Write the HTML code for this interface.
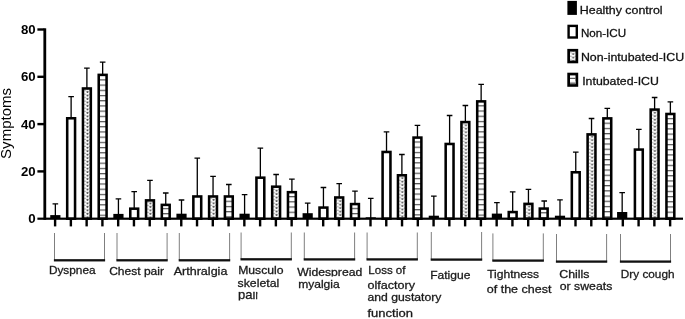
<!DOCTYPE html>
<html><head><meta charset="utf-8"><title>Symptoms</title>
<style>
html,body{margin:0;padding:0;background:#fff;}
body{width:685px;height:319px;overflow:hidden;}
svg{display:block;filter:blur(0.35px);}
text{font-family:"Liberation Sans",Arial,sans-serif;fill:#000;}
.ax{font-weight:bold;font-size:12.7px;}
.lb{font-size:10.7px;fill:#1a1a1a;stroke:#1a1a1a;stroke-width:0.28px;}
.lg{font-size:11.1px;fill:#111;stroke:#111;stroke-width:0.28px;}
</style></head><body>
<svg width="685" height="319" viewBox="0 0 685 319">
<defs>
<pattern id="pd0" patternUnits="userSpaceOnUse" x="84.99" y="-0.09" width="5" height="3.48"><rect width="5" height="3.48" fill="#fff"/><path d="M0 0 L2.5 1.74 L5 0 M0 3.48 L0.1 3.48" stroke="#9c9c9c" stroke-width="0.75" fill="none"/><circle cx="2.5" cy="1.64" r="0.95" fill="#505050"/><circle cx="0" cy="0" r="0.6" fill="#a8a8a8"/><circle cx="5" cy="0" r="0.6" fill="#a8a8a8"/><circle cx="0" cy="3.48" r="0.6" fill="#a8a8a8"/><circle cx="5" cy="3.48" r="0.6" fill="#a8a8a8"/></pattern>
<pattern id="pd1" patternUnits="userSpaceOnUse" x="147.87" y="-0.04" width="5" height="3.48"><rect width="5" height="3.48" fill="#fff"/><path d="M0 0 L2.5 1.74 L5 0 M0 3.48 L0.1 3.48" stroke="#9c9c9c" stroke-width="0.75" fill="none"/><circle cx="2.5" cy="1.64" r="0.95" fill="#505050"/><circle cx="0" cy="0" r="0.6" fill="#a8a8a8"/><circle cx="5" cy="0" r="0.6" fill="#a8a8a8"/><circle cx="0" cy="3.48" r="0.6" fill="#a8a8a8"/><circle cx="5" cy="3.48" r="0.6" fill="#a8a8a8"/></pattern>
<pattern id="pd2" patternUnits="userSpaceOnUse" x="211.15" y="-0.14" width="5" height="3.48"><rect width="5" height="3.48" fill="#fff"/><path d="M0 0 L2.5 1.74 L5 0 M0 3.48 L0.1 3.48" stroke="#9c9c9c" stroke-width="0.75" fill="none"/><circle cx="2.5" cy="1.64" r="0.95" fill="#505050"/><circle cx="0" cy="0" r="0.6" fill="#a8a8a8"/><circle cx="5" cy="0" r="0.6" fill="#a8a8a8"/><circle cx="0" cy="3.48" r="0.6" fill="#a8a8a8"/><circle cx="5" cy="3.48" r="0.6" fill="#a8a8a8"/></pattern>
<pattern id="pd3" patternUnits="userSpaceOnUse" x="274.13" y="1.06" width="5" height="3.48"><rect width="5" height="3.48" fill="#fff"/><path d="M0 0 L2.5 1.74 L5 0 M0 3.48 L0.1 3.48" stroke="#9c9c9c" stroke-width="0.75" fill="none"/><circle cx="2.5" cy="1.64" r="0.95" fill="#505050"/><circle cx="0" cy="0" r="0.6" fill="#a8a8a8"/><circle cx="5" cy="0" r="0.6" fill="#a8a8a8"/><circle cx="0" cy="3.48" r="0.6" fill="#a8a8a8"/><circle cx="5" cy="3.48" r="0.6" fill="#a8a8a8"/></pattern>
<pattern id="pd4" patternUnits="userSpaceOnUse" x="337.71" y="1.16" width="5" height="3.48"><rect width="5" height="3.48" fill="#fff"/><path d="M0 0 L2.5 1.74 L5 0 M0 3.48 L0.1 3.48" stroke="#9c9c9c" stroke-width="0.75" fill="none"/><circle cx="2.5" cy="1.64" r="0.95" fill="#505050"/><circle cx="0" cy="0" r="0.6" fill="#a8a8a8"/><circle cx="5" cy="0" r="0.6" fill="#a8a8a8"/><circle cx="0" cy="3.48" r="0.6" fill="#a8a8a8"/><circle cx="5" cy="3.48" r="0.6" fill="#a8a8a8"/></pattern>
<pattern id="pd5" patternUnits="userSpaceOnUse" x="399.79" y="-0.94" width="5" height="3.48"><rect width="5" height="3.48" fill="#fff"/><path d="M0 0 L2.5 1.74 L5 0 M0 3.48 L0.1 3.48" stroke="#9c9c9c" stroke-width="0.75" fill="none"/><circle cx="2.5" cy="1.64" r="0.95" fill="#505050"/><circle cx="0" cy="0" r="0.6" fill="#a8a8a8"/><circle cx="5" cy="0" r="0.6" fill="#a8a8a8"/><circle cx="0" cy="3.48" r="0.6" fill="#a8a8a8"/><circle cx="5" cy="3.48" r="0.6" fill="#a8a8a8"/></pattern>
<pattern id="pd6" patternUnits="userSpaceOnUse" x="463.47" y="-1.59" width="5" height="3.48"><rect width="5" height="3.48" fill="#fff"/><path d="M0 0 L2.5 1.74 L5 0 M0 3.48 L0.1 3.48" stroke="#9c9c9c" stroke-width="0.75" fill="none"/><circle cx="2.5" cy="1.64" r="0.95" fill="#505050"/><circle cx="0" cy="0" r="0.6" fill="#a8a8a8"/><circle cx="5" cy="0" r="0.6" fill="#a8a8a8"/><circle cx="0" cy="3.48" r="0.6" fill="#a8a8a8"/><circle cx="5" cy="3.48" r="0.6" fill="#a8a8a8"/></pattern>
<pattern id="pd7" patternUnits="userSpaceOnUse" x="526.65" y="-0.39" width="5" height="3.48"><rect width="5" height="3.48" fill="#fff"/><path d="M0 0 L2.5 1.74 L5 0 M0 3.48 L0.1 3.48" stroke="#9c9c9c" stroke-width="0.75" fill="none"/><circle cx="2.5" cy="1.64" r="0.95" fill="#505050"/><circle cx="0" cy="0" r="0.6" fill="#a8a8a8"/><circle cx="5" cy="0" r="0.6" fill="#a8a8a8"/><circle cx="0" cy="3.48" r="0.6" fill="#a8a8a8"/><circle cx="5" cy="3.48" r="0.6" fill="#a8a8a8"/></pattern>
<pattern id="pd8" patternUnits="userSpaceOnUse" x="589.63" y="-0.64" width="5" height="3.48"><rect width="5" height="3.48" fill="#fff"/><path d="M0 0 L2.5 1.74 L5 0 M0 3.48 L0.1 3.48" stroke="#9c9c9c" stroke-width="0.75" fill="none"/><circle cx="2.5" cy="1.64" r="0.95" fill="#505050"/><circle cx="0" cy="0" r="0.6" fill="#a8a8a8"/><circle cx="5" cy="0" r="0.6" fill="#a8a8a8"/><circle cx="0" cy="3.48" r="0.6" fill="#a8a8a8"/><circle cx="5" cy="3.48" r="0.6" fill="#a8a8a8"/></pattern>
<pattern id="pd9" patternUnits="userSpaceOnUse" x="652.41" y="-0.24" width="5" height="3.48"><rect width="5" height="3.48" fill="#fff"/><path d="M0 0 L2.5 1.74 L5 0 M0 3.48 L0.1 3.48" stroke="#9c9c9c" stroke-width="0.75" fill="none"/><circle cx="2.5" cy="1.64" r="0.95" fill="#505050"/><circle cx="0" cy="0" r="0.6" fill="#a8a8a8"/><circle cx="5" cy="0" r="0.6" fill="#a8a8a8"/><circle cx="0" cy="3.48" r="0.6" fill="#a8a8a8"/><circle cx="5" cy="3.48" r="0.6" fill="#a8a8a8"/></pattern>
<pattern id="pdl" patternUnits="userSpaceOnUse" x="570.70" y="0.26" width="5" height="3.48"><rect width="5" height="3.48" fill="#fff"/><path d="M0 0 L2.5 1.74 L5 0 M0 3.48 L0.1 3.48" stroke="#9c9c9c" stroke-width="0.75" fill="none"/><circle cx="2.5" cy="1.64" r="0.95" fill="#505050"/><circle cx="0" cy="0" r="0.6" fill="#a8a8a8"/><circle cx="5" cy="0" r="0.6" fill="#a8a8a8"/><circle cx="0" cy="3.48" r="0.6" fill="#a8a8a8"/><circle cx="5" cy="3.48" r="0.6" fill="#a8a8a8"/></pattern>
<pattern id="ph0" patternUnits="userSpaceOnUse" x="0" y="1.25" width="8" height="5.205"><rect width="8" height="5.205" fill="#fff"/><rect width="8" height="1.2" fill="#555"/></pattern>
<pattern id="ph1" patternUnits="userSpaceOnUse" x="0" y="-0.30" width="8" height="5.205"><rect width="8" height="5.205" fill="#fff"/><rect width="8" height="1.2" fill="#555"/></pattern>
<pattern id="ph2" patternUnits="userSpaceOnUse" x="0" y="2.90" width="8" height="5.205"><rect width="8" height="5.205" fill="#fff"/><rect width="8" height="1.2" fill="#555"/></pattern>
<pattern id="ph3" patternUnits="userSpaceOnUse" x="0" y="3.46" width="8" height="5.205"><rect width="8" height="5.205" fill="#fff"/><rect width="8" height="1.2" fill="#555"/></pattern>
<pattern id="ph4" patternUnits="userSpaceOnUse" x="0" y="-0.40" width="8" height="5.205"><rect width="8" height="5.205" fill="#fff"/><rect width="8" height="1.2" fill="#555"/></pattern>
<pattern id="ph5" patternUnits="userSpaceOnUse" x="0" y="0.90" width="8" height="5.205"><rect width="8" height="5.205" fill="#fff"/><rect width="8" height="1.2" fill="#555"/></pattern>
<pattern id="ph6" patternUnits="userSpaceOnUse" x="0" y="1.15" width="8" height="5.205"><rect width="8" height="5.205" fill="#fff"/><rect width="8" height="1.2" fill="#555"/></pattern>
<pattern id="ph7" patternUnits="userSpaceOnUse" x="0" y="4.00" width="8" height="5.205"><rect width="8" height="5.205" fill="#fff"/><rect width="8" height="1.2" fill="#555"/></pattern>
<pattern id="ph8" patternUnits="userSpaceOnUse" x="0" y="2.90" width="8" height="5.205"><rect width="8" height="5.205" fill="#fff"/><rect width="8" height="1.2" fill="#555"/></pattern>
<pattern id="ph9" patternUnits="userSpaceOnUse" x="0" y="3.40" width="8" height="5.205"><rect width="8" height="5.205" fill="#fff"/><rect width="8" height="1.2" fill="#555"/></pattern>
<linearGradient id="gl" x1="0" y1="0" x2="0" y2="1"><stop offset="0" stop-color="#fff"/><stop offset="1" stop-color="#444"/></linearGradient>
<clipPath id="cpair"><rect x="230" y="291.4" width="27.4" height="9.2"/></clipPath>
<clipPath id="cwide"><rect x="290" y="260" width="80" height="16.5"/></clipPath>
</defs>
<rect width="685" height="319" fill="#fff"/>

<path d="M55.35 203.8 V216.1 M52.55 203.8 H58.15" stroke="#000" stroke-width="1.3" fill="none"/>
<rect x="50.25" y="215.1" width="10.2" height="3.6" fill="#000"/>
<path d="M71.12 96.6 V118.0 M68.32 96.6 H73.92" stroke="#000" stroke-width="1.3" fill="none"/>
<rect x="67.20" y="118.28" width="7.85" height="100.42" fill="#fff" stroke="#000" stroke-width="2.55"/>
<path d="M86.89 68.2 V88.2 M84.09 68.2 H89.69" stroke="#000" stroke-width="1.3" fill="none"/>
<rect x="82.97" y="88.48" width="7.85" height="130.22" fill="url(#pd0)" stroke="#000" stroke-width="2.55"/>
<path d="M102.66 62.2 V74.6 M99.86 62.2 H105.46" stroke="#000" stroke-width="1.3" fill="none"/>
<rect x="98.73" y="74.88" width="7.85" height="143.82" fill="url(#ph0)" stroke="#000" stroke-width="2.55"/>
<path d="M118.43 198.9 V214.9 M115.63 198.9 H121.23" stroke="#000" stroke-width="1.3" fill="none"/>
<rect x="113.33" y="213.9" width="10.2" height="4.8" fill="#000"/>
<path d="M134.20 191.7 V208.4 M131.40 191.7 H137.00" stroke="#000" stroke-width="1.3" fill="none"/>
<rect x="130.28" y="208.68" width="7.85" height="10.02" fill="#fff" stroke="#000" stroke-width="2.55"/>
<path d="M149.97 180.3 V200.1 M147.17 180.3 H152.77" stroke="#000" stroke-width="1.3" fill="none"/>
<rect x="146.05" y="200.38" width="7.85" height="18.32" fill="url(#pd1)" stroke="#000" stroke-width="2.55"/>
<path d="M165.74 193.0 V204.6 M162.94 193.0 H168.54" stroke="#000" stroke-width="1.3" fill="none"/>
<rect x="161.82" y="204.88" width="7.85" height="13.82" fill="url(#ph1)" stroke="#000" stroke-width="2.55"/>
<path d="M181.51 200.0 V214.7 M178.71 200.0 H184.31" stroke="#000" stroke-width="1.3" fill="none"/>
<rect x="176.41" y="213.7" width="10.2" height="5.0" fill="#000"/>
<path d="M197.28 158.1 V196.2 M194.48 158.1 H200.08" stroke="#000" stroke-width="1.3" fill="none"/>
<rect x="193.36" y="196.47" width="7.85" height="22.22" fill="#fff" stroke="#000" stroke-width="2.55"/>
<path d="M213.05 176.4 V196.2 M210.25 176.4 H215.85" stroke="#000" stroke-width="1.3" fill="none"/>
<rect x="209.12" y="196.47" width="7.85" height="22.22" fill="url(#pd2)" stroke="#000" stroke-width="2.55"/>
<path d="M228.82 184.5 V196.2 M226.02 184.5 H231.62" stroke="#000" stroke-width="1.3" fill="none"/>
<rect x="224.90" y="196.47" width="7.85" height="22.22" fill="url(#ph2)" stroke="#000" stroke-width="2.55"/>
<path d="M244.59 194.6 V214.7 M241.79 194.6 H247.39" stroke="#000" stroke-width="1.3" fill="none"/>
<rect x="239.49" y="213.7" width="10.2" height="5.0" fill="#000"/>
<path d="M260.36 148.2 V177.4 M257.56 148.2 H263.16" stroke="#000" stroke-width="1.3" fill="none"/>
<rect x="256.44" y="177.68" width="7.85" height="41.02" fill="#fff" stroke="#000" stroke-width="2.55"/>
<path d="M276.13 174.5 V186.4 M273.33 174.5 H278.93" stroke="#000" stroke-width="1.3" fill="none"/>
<rect x="272.20" y="186.68" width="7.85" height="32.02" fill="url(#pd3)" stroke="#000" stroke-width="2.55"/>
<path d="M291.90 179.2 V191.9 M289.10 179.2 H294.70" stroke="#000" stroke-width="1.3" fill="none"/>
<rect x="287.97" y="192.18" width="7.85" height="26.52" fill="url(#ph3)" stroke="#000" stroke-width="2.55"/>
<path d="M307.67 203.1 V214.2 M304.87 203.1 H310.47" stroke="#000" stroke-width="1.3" fill="none"/>
<rect x="302.57" y="213.2" width="10.2" height="5.5" fill="#000"/>
<path d="M323.44 187.5 V207.3 M320.64 187.5 H326.24" stroke="#000" stroke-width="1.3" fill="none"/>
<rect x="319.51" y="207.58" width="7.85" height="11.12" fill="#fff" stroke="#000" stroke-width="2.55"/>
<path d="M339.21 183.7 V197.2 M336.41 183.7 H342.01" stroke="#000" stroke-width="1.3" fill="none"/>
<rect x="335.29" y="197.47" width="7.85" height="21.22" fill="url(#pd4)" stroke="#000" stroke-width="2.55"/>
<path d="M354.98 191.2 V203.8 M352.18 191.2 H357.78" stroke="#000" stroke-width="1.3" fill="none"/>
<rect x="351.06" y="204.08" width="7.85" height="14.62" fill="url(#ph4)" stroke="#000" stroke-width="2.55"/>
<path d="M370.75 198.4 V218.3 M367.95 198.4 H373.55" stroke="#000" stroke-width="1.3" fill="none"/>
<rect x="365.65" y="217.3" width="10.2" height="1.4" fill="#000"/>
<path d="M386.52 131.9 V151.7 M383.72 131.9 H389.32" stroke="#000" stroke-width="1.3" fill="none"/>
<rect x="382.60" y="151.97" width="7.85" height="66.72" fill="#fff" stroke="#000" stroke-width="2.55"/>
<path d="M401.89 154.5 V175.0 M399.09 154.5 H404.69" stroke="#000" stroke-width="1.3" fill="none"/>
<rect x="397.97" y="175.28" width="7.85" height="43.42" fill="url(#pd5)" stroke="#000" stroke-width="2.55"/>
<path d="M417.46 125.3 V137.3 M414.66 125.3 H420.26" stroke="#000" stroke-width="1.3" fill="none"/>
<rect x="413.53" y="137.58" width="7.85" height="81.12" fill="url(#ph5)" stroke="#000" stroke-width="2.55"/>
<path d="M433.83 196.2 V216.7 M431.03 196.2 H436.63" stroke="#000" stroke-width="1.3" fill="none"/>
<rect x="428.73" y="215.7" width="10.2" height="3.0" fill="#000"/>
<path d="M449.60 115.5 V143.7 M446.80 115.5 H452.40" stroke="#000" stroke-width="1.3" fill="none"/>
<rect x="445.68" y="143.97" width="7.85" height="74.72" fill="#fff" stroke="#000" stroke-width="2.55"/>
<path d="M465.37 105.5 V121.8 M462.57 105.5 H468.17" stroke="#000" stroke-width="1.3" fill="none"/>
<rect x="461.44" y="122.08" width="7.85" height="96.62" fill="url(#pd6)" stroke="#000" stroke-width="2.55"/>
<path d="M481.14 84.4 V101.1 M478.34 84.4 H483.94" stroke="#000" stroke-width="1.3" fill="none"/>
<rect x="477.21" y="101.38" width="7.85" height="117.32" fill="url(#ph6)" stroke="#000" stroke-width="2.55"/>
<path d="M496.91 202.6 V214.6 M494.11 202.6 H499.71" stroke="#000" stroke-width="1.3" fill="none"/>
<rect x="491.81" y="213.6" width="10.2" height="5.1" fill="#000"/>
<path d="M512.68 191.9 V211.8 M509.88 191.9 H515.48" stroke="#000" stroke-width="1.3" fill="none"/>
<rect x="508.75" y="212.08" width="7.85" height="6.62" fill="#fff" stroke="#000" stroke-width="2.55"/>
<path d="M528.45 189.4 V203.6 M525.65 189.4 H531.25" stroke="#000" stroke-width="1.3" fill="none"/>
<rect x="524.52" y="203.88" width="7.85" height="14.82" fill="url(#pd7)" stroke="#000" stroke-width="2.55"/>
<path d="M544.22 201.0 V208.3 M541.42 201.0 H547.02" stroke="#000" stroke-width="1.3" fill="none"/>
<rect x="539.79" y="208.58" width="7.85" height="10.12" fill="url(#ph7)" stroke="#000" stroke-width="2.55"/>
<path d="M559.99 199.9 V216.7 M557.19 199.9 H562.79" stroke="#000" stroke-width="1.3" fill="none"/>
<rect x="554.89" y="215.7" width="10.2" height="3.0" fill="#000"/>
<path d="M575.76 152.1 V172.0 M572.96 152.1 H578.56" stroke="#000" stroke-width="1.3" fill="none"/>
<rect x="571.83" y="172.28" width="7.85" height="46.42" fill="#fff" stroke="#000" stroke-width="2.55"/>
<path d="M591.53 118.5 V134.1 M588.73 118.5 H594.33" stroke="#000" stroke-width="1.3" fill="none"/>
<rect x="587.60" y="134.38" width="7.85" height="84.32" fill="url(#pd8)" stroke="#000" stroke-width="2.55"/>
<path d="M607.30 108.3 V118.1 M604.50 108.3 H610.10" stroke="#000" stroke-width="1.3" fill="none"/>
<rect x="603.37" y="118.38" width="7.85" height="100.32" fill="url(#ph8)" stroke="#000" stroke-width="2.55"/>
<path d="M622.17 192.7 V213.0 M619.37 192.7 H624.97" stroke="#000" stroke-width="1.3" fill="none"/>
<rect x="617.07" y="212.0" width="10.2" height="6.7" fill="#000"/>
<path d="M638.84 129.3 V149.3 M636.04 129.3 H641.64" stroke="#000" stroke-width="1.3" fill="none"/>
<rect x="634.91" y="149.58" width="7.85" height="69.12" fill="#fff" stroke="#000" stroke-width="2.55"/>
<path d="M654.61 97.5 V109.3 M651.81 97.5 H657.41" stroke="#000" stroke-width="1.3" fill="none"/>
<rect x="650.68" y="109.58" width="7.85" height="109.12" fill="url(#pd9)" stroke="#000" stroke-width="2.55"/>
<path d="M670.38 101.9 V113.7 M667.58 101.9 H673.18" stroke="#000" stroke-width="1.3" fill="none"/>
<rect x="666.45" y="113.98" width="7.85" height="104.72" fill="url(#ph9)" stroke="#000" stroke-width="2.55"/>
<rect x="37.4" y="217.6" width="645.6" height="2.2" fill="#000"/>
<rect x="43.4" y="28.3" width="2.8" height="191.5" fill="#000"/>
<rect x="37.4" y="28.3" width="7" height="2.4" fill="#000"/>
<text class="ax" x="21.0" y="34.0" textLength="14.7" lengthAdjust="spacingAndGlyphs">80</text>
<rect x="37.4" y="75.6" width="7" height="2.4" fill="#000"/>
<text class="ax" x="21.0" y="81.3" textLength="14.7" lengthAdjust="spacingAndGlyphs">60</text>
<rect x="37.4" y="122.9" width="7" height="2.4" fill="#000"/>
<text class="ax" x="21.0" y="128.6" textLength="14.7" lengthAdjust="spacingAndGlyphs">40</text>
<rect x="37.4" y="170.2" width="7" height="2.4" fill="#000"/>
<text class="ax" x="21.0" y="175.9" textLength="14.7" lengthAdjust="spacingAndGlyphs">20</text>
<text class="ax" x="28.3" y="223.2" textLength="7.4" lengthAdjust="spacingAndGlyphs">0</text>
<rect x="53.90" y="219" width="2.4" height="7.4" fill="#000"/>
<rect x="69.67" y="219" width="2.4" height="7.4" fill="#000"/>
<rect x="85.44" y="219" width="2.4" height="7.4" fill="#000"/>
<rect x="101.21" y="219" width="2.4" height="7.4" fill="#000"/>
<rect x="116.98" y="219" width="2.4" height="7.4" fill="#000"/>
<rect x="132.75" y="219" width="2.4" height="7.4" fill="#000"/>
<rect x="148.52" y="219" width="2.4" height="7.4" fill="#000"/>
<rect x="164.29" y="219" width="2.4" height="7.4" fill="#000"/>
<rect x="180.06" y="219" width="2.4" height="7.4" fill="#000"/>
<rect x="195.83" y="219" width="2.4" height="7.4" fill="#000"/>
<rect x="211.60" y="219" width="2.4" height="7.4" fill="#000"/>
<rect x="227.37" y="219" width="2.4" height="7.4" fill="#000"/>
<rect x="243.14" y="219" width="2.4" height="7.4" fill="#000"/>
<rect x="258.91" y="219" width="2.4" height="7.4" fill="#000"/>
<rect x="274.68" y="219" width="2.4" height="7.4" fill="#000"/>
<rect x="290.45" y="219" width="2.4" height="7.4" fill="#000"/>
<rect x="306.22" y="219" width="2.4" height="7.4" fill="#000"/>
<rect x="321.99" y="219" width="2.4" height="7.4" fill="#000"/>
<rect x="337.76" y="219" width="2.4" height="7.4" fill="#000"/>
<rect x="353.53" y="219" width="2.4" height="7.4" fill="#000"/>
<rect x="369.30" y="219" width="2.4" height="7.4" fill="#000"/>
<rect x="385.07" y="219" width="2.4" height="7.4" fill="#000"/>
<rect x="400.84" y="219" width="2.4" height="7.4" fill="#000"/>
<rect x="416.61" y="219" width="2.4" height="7.4" fill="#000"/>
<rect x="432.38" y="219" width="2.4" height="7.4" fill="#000"/>
<rect x="448.15" y="219" width="2.4" height="7.4" fill="#000"/>
<rect x="463.92" y="219" width="2.4" height="7.4" fill="#000"/>
<rect x="479.69" y="219" width="2.4" height="7.4" fill="#000"/>
<rect x="495.46" y="219" width="2.4" height="7.4" fill="#000"/>
<rect x="511.23" y="219" width="2.4" height="7.4" fill="#000"/>
<rect x="527.00" y="219" width="2.4" height="7.4" fill="#000"/>
<rect x="542.77" y="219" width="2.4" height="7.4" fill="#000"/>
<rect x="558.54" y="219" width="2.4" height="7.4" fill="#000"/>
<rect x="574.31" y="219" width="2.4" height="7.4" fill="#000"/>
<rect x="590.08" y="219" width="2.4" height="7.4" fill="#000"/>
<rect x="605.85" y="219" width="2.4" height="7.4" fill="#000"/>
<rect x="621.62" y="219" width="2.4" height="7.4" fill="#000"/>
<rect x="637.39" y="219" width="2.4" height="7.4" fill="#000"/>
<rect x="653.16" y="219" width="2.4" height="7.4" fill="#000"/>
<rect x="668.93" y="219" width="2.4" height="7.4" fill="#000"/>
<text transform="translate(11.2,158.9) rotate(-90)" font-size="15" textLength="71" lengthAdjust="spacingAndGlyphs">Symptoms</text>
<path d="M54.5 233 V260.3 M104.5 233 V260.3" stroke="#707070" stroke-width="0.9" fill="none"/>
<rect x="53.9" y="259.15" width="51.2" height="2.3" fill="#111"/>
<path d="M117.0 233 V260.3 M167.1 233 V260.3" stroke="#707070" stroke-width="0.9" fill="none"/>
<rect x="116.4" y="259.15" width="51.3" height="2.3" fill="#111"/>
<path d="M179.3 233 V260.3 M229.6 233 V260.3" stroke="#707070" stroke-width="0.9" fill="none"/>
<rect x="178.7" y="259.15" width="51.5" height="2.3" fill="#111"/>
<path d="M241.1 232.5 V259.3 M291.3 232.5 V259.3" stroke="#707070" stroke-width="0.9" fill="none"/>
<rect x="240.5" y="258.15" width="51.4" height="2.3" fill="#111"/>
<path d="M304.3 232.5 V259.4 M354.6 232.5 V259.4" stroke="#707070" stroke-width="0.9" fill="none"/>
<rect x="303.7" y="258.25" width="51.5" height="2.3" fill="#111"/>
<path d="M367.1 232.5 V259.4 M417.3 232.5 V259.4" stroke="#707070" stroke-width="0.9" fill="none"/>
<rect x="366.5" y="258.25" width="51.4" height="2.3" fill="#111"/>
<path d="M431.3 232 V259.6 M481.6 232 V259.6" stroke="#707070" stroke-width="0.9" fill="none"/>
<rect x="430.7" y="258.45" width="51.5" height="2.3" fill="#111"/>
<path d="M492.9 233.4 V260.6 M543.3 233.4 V260.6" stroke="#707070" stroke-width="0.9" fill="none"/>
<rect x="492.3" y="259.45" width="51.6" height="2.3" fill="#111"/>
<path d="M556.5 234 V261.6 M606.6 234 V261.6" stroke="#707070" stroke-width="0.9" fill="none"/>
<rect x="555.9" y="260.45" width="51.3" height="2.3" fill="#111"/>
<path d="M620.5 234 V261.6 M670.5 234 V261.6" stroke="#707070" stroke-width="0.9" fill="none"/>
<rect x="619.9" y="260.45" width="51.2" height="2.3" fill="#111"/>
<text class="lb" x="48.9" y="274.4" textLength="46.7" lengthAdjust="spacingAndGlyphs">Dyspnea</text>
<text class="lb" x="109.2" y="275.0" textLength="54.8" lengthAdjust="spacingAndGlyphs">Chest pair</text>
<text class="lb" x="173.7" y="274.9" textLength="53.7" lengthAdjust="spacingAndGlyphs">Arthralgia</text>
<text class="lb" x="238.2" y="273.9" textLength="45.4" lengthAdjust="spacingAndGlyphs">Musculo</text>
<text class="lb" x="237.6" y="286.8" textLength="41.6" lengthAdjust="spacingAndGlyphs">skeletal</text>
<text class="lb" x="238.0" y="298.8" textLength="21.7" lengthAdjust="spacingAndGlyphs" clip-path="url(#cpair)" style="font-size:12.2px">pair</text>
<text class="lb" x="297.2" y="275.5" textLength="65.1" lengthAdjust="spacingAndGlyphs" clip-path="url(#cwide)">Widespread</text>
<text class="lb" x="298.2" y="287.5" textLength="41.5" lengthAdjust="spacingAndGlyphs">myalgia</text>
<text class="lb" x="368.3" y="273.5" textLength="37.2" lengthAdjust="spacingAndGlyphs">Loss of</text>
<text class="lb" x="367.5" y="288.6" textLength="47.5" lengthAdjust="spacingAndGlyphs">olfactory</text>
<text class="lb" x="367.5" y="300.8" textLength="73.9" lengthAdjust="spacingAndGlyphs">and gustatory</text>
<text class="lb" x="367.5" y="316.9" textLength="45.5" lengthAdjust="spacingAndGlyphs">function</text>
<text class="lb" x="430.2" y="278.7" textLength="40.2" lengthAdjust="spacingAndGlyphs">Fatigue</text>
<text class="lb" x="487.2" y="277.5" textLength="51.9" lengthAdjust="spacingAndGlyphs">Tightness</text>
<text class="lb" x="486.8" y="293.2" textLength="64.6" lengthAdjust="spacingAndGlyphs">of the chest</text>
<text class="lb" x="559.2" y="277.5" textLength="30.3" lengthAdjust="spacingAndGlyphs">Chills</text>
<text class="lb" x="559.8" y="290.2" textLength="52.5" lengthAdjust="spacingAndGlyphs">or sweats</text>
<text class="lb" x="620.8" y="277.5" textLength="53.7" lengthAdjust="spacingAndGlyphs">Dry cough</text>
<rect x="567.4" y="0.9" width="9.5" height="14" fill="#000"/>
<rect x="568.6" y="25.9" width="8.2" height="11.6" fill="#fff" stroke="#000" stroke-width="2.4"/>
<rect x="568.65" y="50.25" width="8.2" height="11.7" fill="url(#pdl)" stroke="#000" stroke-width="2.7"/>
<rect x="568.65" y="74.05" width="8.2" height="11.4" fill="#fff" stroke="#000" stroke-width="2.7"/>
<rect x="570" y="77.8" width="5.5" height="1.1" fill="#444"/>
<rect x="570" y="81.3" width="5.5" height="2.9" fill="url(#gl)"/>
<text class="lg" x="579.8" y="13.9" textLength="82.8" lengthAdjust="spacingAndGlyphs">Healthy control</text>
<text class="lg" x="580.9" y="37.0" textLength="45.2" lengthAdjust="spacingAndGlyphs">Non-ICU</text>
<text class="lg" x="580.9" y="61.2" textLength="103.2" lengthAdjust="spacingAndGlyphs">Non-intubated-ICU</text>
<text class="lg" x="582.2" y="85.4" textLength="76.7" lengthAdjust="spacingAndGlyphs">Intubated-ICU</text>
</svg></body></html>
